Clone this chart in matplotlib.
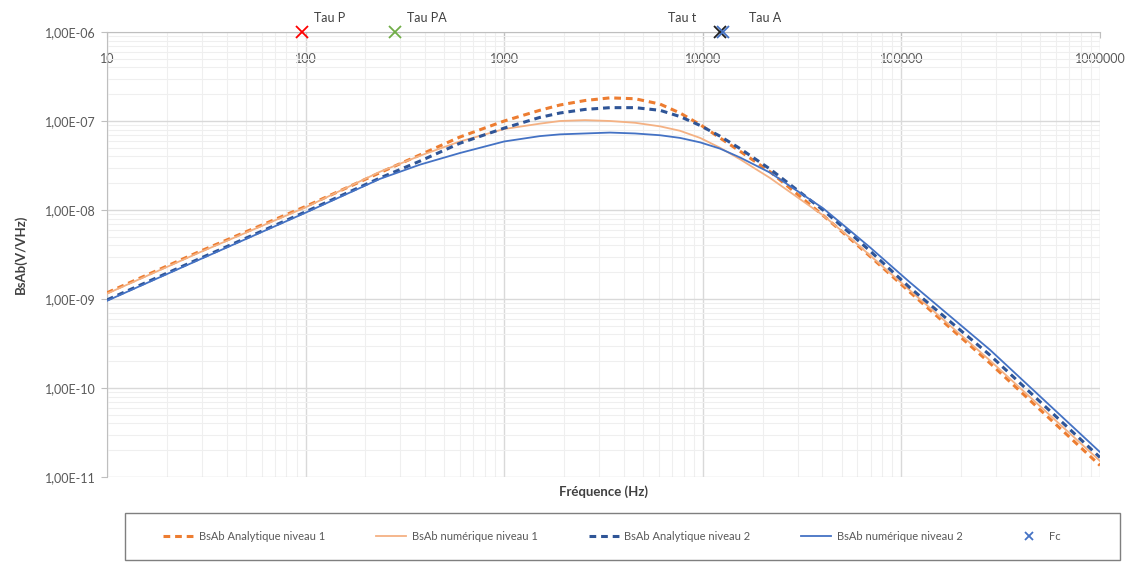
import numpy as np
import matplotlib
matplotlib.use('Agg')
import matplotlib.pyplot as plt
from matplotlib.patches import Rectangle
from matplotlib.ticker import FixedLocator, FuncFormatter, NullFormatter

plt.rcParams['font.family'] = ['Lato', 'DejaVu Sans']

# frequencies (Hz) at which curves were read
freq = [10, 29, 100, 237, 377, 598, 1000, 1510, 1910, 2550, 3410, 4560, 6090,
        7680, 9690, 12200, 15400, 21800, 40300, 55000, 69500, 110000, 279000, 1000000]

# log10 of BsAb values (V/sqrt(Hz))
ana1_log = [-8.93, -8.47, -7.96, -7.58, -7.38, -7.18, -7.00, -6.88, -6.82, -6.77, -6.74, -6.75, -6.81,
            -6.91, -7.04, -7.19, -7.34, -7.57, -8.06, -8.32, -8.52, -8.92, -9.72, -10.87]
num1_log = [-8.94, -8.48, -7.97, -7.57, -7.39, -7.23, -7.09, -7.03, -7.00, -6.99, -7.00, -7.02, -7.06,
            -7.11, -7.19, -7.30, -7.43, -7.64, -8.06, -8.31, -8.51, -8.90, -9.69, -10.82]
ana2_log = [-9.01, -8.55, -8.02, -7.64, -7.45, -7.25, -7.08, -6.96, -6.91, -6.87, -6.85, -6.85, -6.88,
            -6.95, -7.05, -7.17, -7.31, -7.54, -8.00, -8.26, -8.46, -8.87, -9.63, -10.78]
num2_log = [-9.02, -8.56, -8.03, -7.65, -7.49, -7.36, -7.23, -7.17, -7.15, -7.14, -7.13, -7.14, -7.16,
            -7.19, -7.24, -7.31, -7.41, -7.58, -7.98, -8.23, -8.42, -8.81, -9.57, -10.72]

# time-constant markers, drawn at the top of the chart
tau_names = ['Tau P', 'Tau PA', 'Tau t', 'Tau A']
tau_freq = [96, 282, 12200, 12700]
tau_val = 1e-6
tau_colors = ['#FF0000', '#70AD47', '#1F1F1F', '#4472C4']

ana1 = 10 ** np.array(ana1_log)
num1 = 10 ** np.array(num1_log)
ana2 = 10 ** np.array(ana2_log)
num2 = 10 ** np.array(num2_log)

fig = plt.figure(figsize=(11.36, 5.62), dpi=100)
ax = fig.add_axes([107 / 1136, 1 - 477 / 562, 993 / 1136, 445 / 562])

ax.plot(freq, ana1, color='#ED7D31', lw=2.2, ls=(0, (2.2, 1.6)), label='BsAb Analytique niveau 1', zorder=3)
ax.plot(freq, num1, color='#F4B183', lw=1.3, label='BsAb numérique niveau 1', zorder=3)
ax.plot(freq, ana2, color='#2F5597', lw=2.2, ls=(0, (2.2, 1.6)), label='BsAb Analytique niveau 2', zorder=3)
ax.plot(freq, num2, color='#4472C4', lw=1.3, label='BsAb numérique niveau 2', zorder=3)

for name, f, c in zip(tau_names, tau_freq, tau_colors):
    lab = 'Fc' if name == 'Tau A' else '_nolegend_'
    ax.plot([f], [tau_val], ls='none', marker='x', ms=8, mew=1.3, color=c,
            label=lab, zorder=5, clip_on=False)

# tau labels
offsets = {'Tau P': (12, 14), 'Tau PA': (12, 14), 'Tau t': (-52, 14), 'Tau A': (26, 14)}
for name, f in zip(tau_names, tau_freq):
    dx, dy = offsets[name]
    ax.annotate(name, (f, tau_val), xytext=(dx, dy), textcoords='offset pixels',
                fontsize=9, color='#404040', va='center', ha='left')

ax.set_xscale('log')
ax.set_yscale('log')
ax.set_xlim(10, 1e6)
ax.set_ylim(1e-11, 1e-6)

ax.yaxis.set_major_locator(FixedLocator([10.0 ** k for k in range(-11, -5)]))
ax.yaxis.set_major_formatter(FuncFormatter(lambda v, p: ('%.2E' % v).replace('.', ',')))
ax.yaxis.set_minor_formatter(NullFormatter())
ax.xaxis.set_major_locator(FixedLocator([10.0 ** k for k in range(1, 7)]))
ax.xaxis.set_major_formatter(FuncFormatter(lambda v, p: '%d' % round(v)))
ax.xaxis.set_minor_formatter(NullFormatter())

ax.tick_params(axis='x', which='both', bottom=False, labelbottom=False, top=True, labeltop=True,
               direction='in', length=4, color='#BFBFBF', pad=-24, labelsize=9, labelcolor='#595959')
ax.tick_params(axis='x', which='minor', top=False)
ax.tick_params(axis='y', which='major', direction='out', length=4, color='#BFBFBF',
               labelsize=9, labelcolor='#595959', pad=4)
ax.tick_params(axis='y', which='minor', left=False)

ax.grid(True, which='major', color='#D9D9D9', lw=1.0)
ax.grid(True, which='minor', color='#EFEFEF', lw=0.8)
ax.set_axisbelow(True)

for s in ['right', 'bottom']:
    ax.spines[s].set_visible(False)
ax.spines['left'].set_color('#BFBFBF')
ax.spines['top'].set_color('#BFBFBF')

ax.set_xlabel('Fréquence (Hz)', fontsize=9.5, fontweight='bold', color='#404040', labelpad=6)
ax.set_ylabel('BsAb(V/VHz)', fontsize=9.5, fontweight='bold', color='#404040', labelpad=13)

# legend box below the chart
fig.add_artist(Rectangle((125 / 1136, 1 - 560 / 562), 995 / 1136, 47 / 562,
                         transform=fig.transFigure, fill=False, edgecolor='#7F7F7F', lw=1.0))
leg = fig.legend(loc='center', ncol=5, bbox_to_anchor=(612 / 1136, 1 - 536 / 562),
                 fontsize=8, frameon=False, handlelength=2.7, markerscale=0.7,
                 handletextpad=0.5, columnspacing=4.6)
for t in leg.get_texts():
    t.set_color('#595959')

fig.savefig('out.png', dpi=100)
